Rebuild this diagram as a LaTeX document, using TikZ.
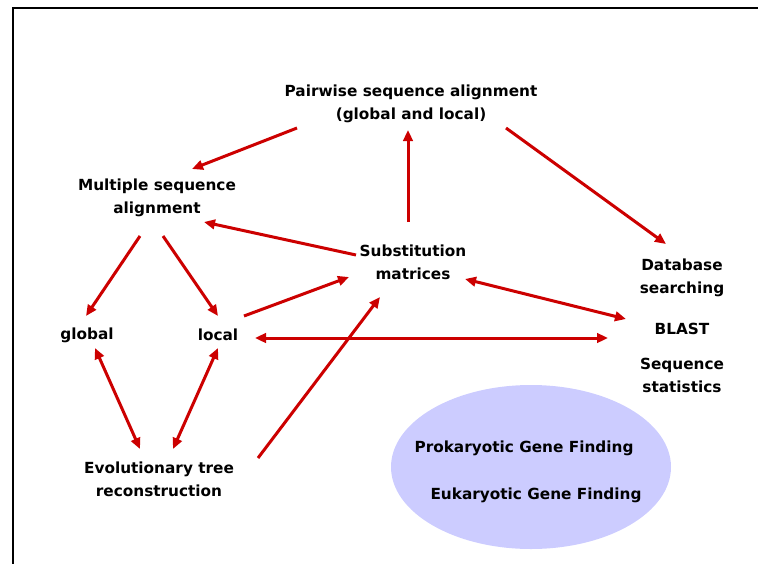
\documentclass[tikz,border=0pt]{standalone}
\usepackage{fontspec}
\setmainfont{DejaVu Sans}
\usetikzlibrary{calc,arrows.meta}
\definecolor{arrowred}{HTML}{CC0000}
\definecolor{blobfill}{HTML}{CCCCFF}
\tikzset{
  lbl/.style={align=center, inner sep=0pt, font={\fontsize{15.3}{23}\selectfont\bfseries}},
  redtip/.tip={Triangle[length=11pt,width=9.5pt]},
  arr/.style={draw=arrowred, line width=3pt, -redtip},
  biarr/.style={draw=arrowred, line width=3pt, redtip-redtip},
}
\begin{document}
\begin{tikzpicture}[x=1pt,y=-1pt]
\useasboundingbox (0,0) rectangle (758,563);
% frame
\draw[line width=2pt] (13,564) -- (13,8) -- (759,8);
% gene finding blob
\fill[blobfill] (531,467) ellipse [x radius=140, y radius=82];

% topics
\node[lbl] (pw)    at (411,104) {Pairwise sequence alignment\\(global and local)};
\node[lbl] (msa)   at (157,198) {Multiple sequence\\alignment};
\node[lbl] (sub)   at (413,262) {Substitution\\matrices};
\node[lbl] (db)    at (682,278) {Database\\searching};
\node[lbl] (blast) at (682,329) {BLAST};
\node[lbl] (stat)  at (682,375) {Sequence\\statistics};
\node[lbl] (glob)  at (87,335)  {global};
\node[lbl] (loc)   at (218,335) {local};
\node[lbl] (evo)   at (159,479) {Evolutionary tree\\reconstruction};
\node[lbl] (pro)   at (524,448) {Prokaryotic Gene Finding};
\node[lbl] (euk)   at (536,495) {Eukaryotic Gene Finding};

% connectors
\draw[arr] ($(pw)+(-114,24)$) -- ($(msa)+(35,-29)$);
\draw[arr] ($(sub)+(-5,-40)$) -- ($(pw)+(-3,26)$);
\draw[arr] ($(pw)+(95,24)$) -- ($(db)+(-16,-34)$);
\draw[arr] ($(sub)+(-57,-7)$) -- ($(msa)+(47,24)$);
\draw[arr] ($(msa)+(-17,38)$) -- ($(glob)+(-1,-19)$);
\draw[arr] ($(msa)+(6,38)$) -- ($(loc)+(0,-19)$);
\draw[arr] ($(loc)+(26,-19)$) -- ($(sub)+(-64,15)$);
\draw[arr] ($(evo)+(99,-21)$) -- ($(sub)+(-33,35)$);
\draw[biarr] ($(sub)+(52,17)$) -- ($(blast)+(-56,-10)$);
\draw[biarr] ($(loc)+(37,3)$) -- ($(blast)+(-74,9)$);
\draw[biarr] ($(glob)+(8,13)$) -- ($(evo)+(-19,-30)$);
\draw[biarr] ($(loc)+(0,13)$) -- ($(evo)+(14,-30)$);
\end{tikzpicture}
\end{document}
